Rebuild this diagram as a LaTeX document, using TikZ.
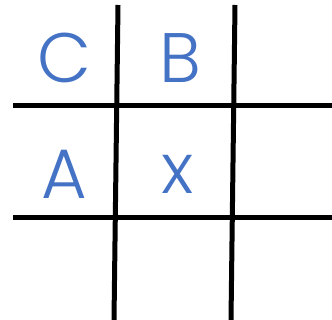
\documentclass[tikz,border=0pt]{standalone}
\usepackage{fontspec}
\setmainfont{Poppins}[UprightFont={Poppins Light}]
\definecolor{letterblue}{HTML}{4472C4}
\tikzset{
  gridline/.style={line width=5pt, black},
  letter/.style={text=letterblue, font=\fontsize{70}{70}\selectfont, inner sep=0pt, anchor=base}
}
\begin{document}
\begin{tikzpicture}[x=1pt,y=-1pt]
\useasboundingbox (0,0) rectangle (332,320);
\draw[gridline] (118,5) -- (114,320);
\draw[gridline] (235,5) -- (231,320);
\draw[gridline] (13,106) -- (332,106);
\draw[gridline] (13,218) -- (332,218);
\node[letter] (c) at (64.5,83) {C};
\node[letter] (b) at (180.5,83) {B};
\node[letter] (a) at (64.5,199) {A};
\node[letter] (x) at (177.5,194) {x};
\end{tikzpicture}
\end{document}
